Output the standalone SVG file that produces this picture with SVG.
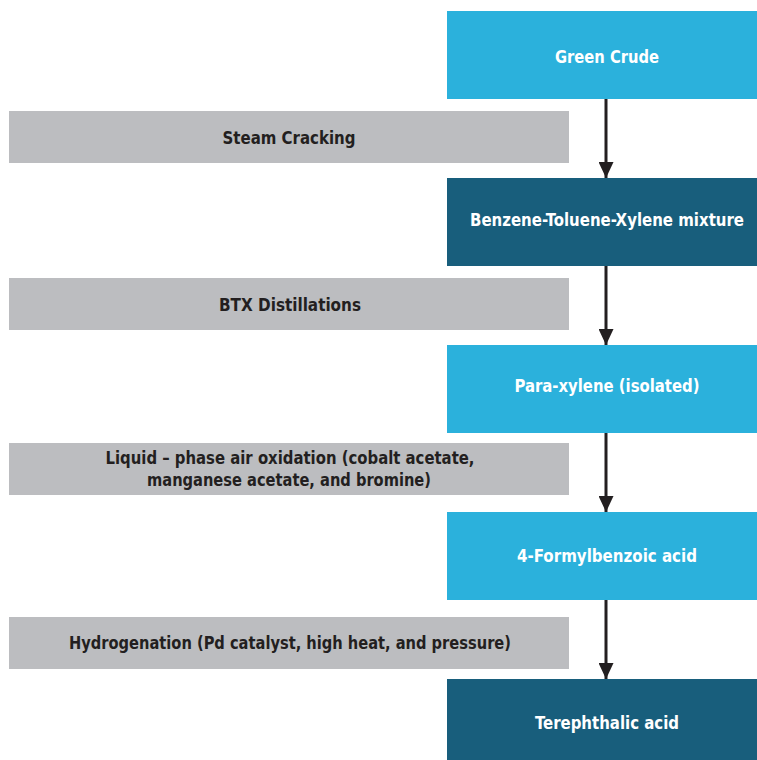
<svg xmlns="http://www.w3.org/2000/svg" width="757" height="760" viewBox="0 0 757 760">
<style>
.light{fill:#2BB1DC}
.dark{fill:#185E7C}
.gray{fill:#BCBDC0}
.t{font-family:"DejaVu Sans Condensed","DejaVu Sans","Liberation Sans",sans-serif;font-stretch:condensed;font-weight:bold;font-size:18.5px;text-anchor:middle}
.w{fill:#ffffff}
.k{fill:#231F20}
.conn{stroke:#231F20;stroke-width:3;fill:none}
</style>
<defs>
<marker id="ah" markerWidth="16" markerHeight="15" refX="16" refY="7.5" orient="auto" markerUnits="userSpaceOnUse">
<path d="M0,0 L16,7.5 L0,15 Z" fill="#231F20"/>
</marker>
</defs>
<rect width="757" height="760" fill="#ffffff"/>
<g id="step1"><rect class="gray" x="9" y="111" width="560" height="52"/><text class="t k" x="289" y="144" textLength="133" lengthAdjust="spacingAndGlyphs">Steam Cracking</text></g>
<g id="step2"><rect class="gray" x="9" y="278" width="560" height="52"/><text class="t k" x="290" y="311" textLength="142" lengthAdjust="spacingAndGlyphs">BTX Distillations</text></g>
<g id="step3"><rect class="gray" x="9" y="443" width="560" height="52"/><text class="t k" x="290" y="464" textLength="369" lengthAdjust="spacingAndGlyphs">Liquid – phase air oxidation (cobalt acetate,</text><text class="t k" x="289" y="486" textLength="284" lengthAdjust="spacingAndGlyphs">manganese acetate, and bromine)</text></g>
<g id="step4"><rect class="gray" x="9" y="617" width="560" height="52"/><text class="t k" x="290" y="649" textLength="442" lengthAdjust="spacingAndGlyphs">Hydrogenation (Pd catalyst, high heat, and pressure)</text></g>
<g id="green-crude"><rect class="light" x="447" y="11" width="310" height="88"/><text class="t w" x="607" y="63" textLength="104" lengthAdjust="spacingAndGlyphs">Green Crude</text></g>
<g id="btx"><rect class="dark" x="447" y="178" width="310" height="88"/><text class="t w" x="607" y="226" textLength="274" lengthAdjust="spacingAndGlyphs">Benzene-Toluene-Xylene mixture</text></g>
<g id="para-xylene"><rect class="light" x="447" y="345" width="310" height="88"/><text class="t w" x="607" y="392" textLength="185" lengthAdjust="spacingAndGlyphs">Para-xylene (isolated)</text></g>
<g id="formyl"><rect class="light" x="447" y="512" width="310" height="88"/><text class="t w" x="607" y="562" textLength="180" lengthAdjust="spacingAndGlyphs">4-Formylbenzoic acid</text></g>
<g id="terephthalic"><rect class="dark" x="447" y="679" width="310" height="81"/><text class="t w" x="607" y="729" textLength="144" lengthAdjust="spacingAndGlyphs">Terephthalic acid</text></g>
<g id="connectors">
<line class="conn" x1="606" y1="99" x2="606" y2="178" marker-end="url(#ah)"/>
<line class="conn" x1="606" y1="266" x2="606" y2="345" marker-end="url(#ah)"/>
<line class="conn" x1="606" y1="433" x2="606" y2="512" marker-end="url(#ah)"/>
<line class="conn" x1="606" y1="600" x2="606" y2="679" marker-end="url(#ah)"/>
</g>
</svg>
